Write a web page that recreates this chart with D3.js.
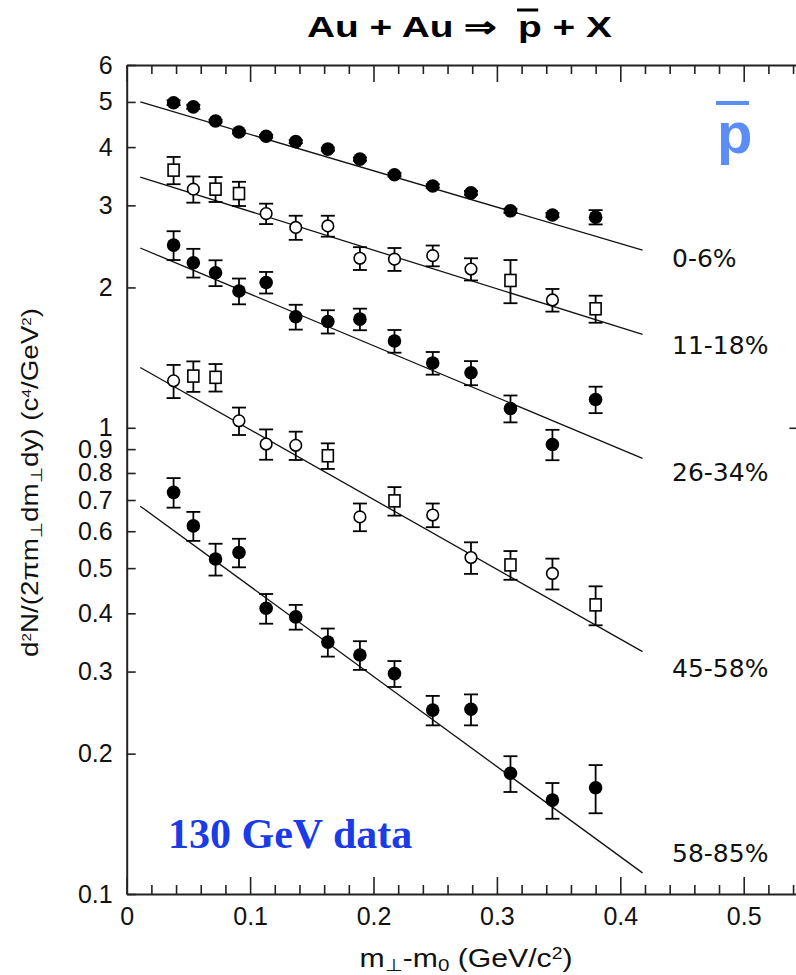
<!DOCTYPE html>
<html>
<head>
<meta charset="utf-8">
<script src="https://cdn.jsdelivr.net/npm/d3@7"></script>
<style>
  html, body { margin: 0; padding: 0; background: #fff; }
  svg { display: block; }
</style>
</head>
<body>
<svg id="chart" width="796" height="975"></svg>
<script>
// ---------------- DATA ----------------
const mtBins = [0.038, 0.054, 0.072, 0.091, 0.113, 0.137, 0.163, 0.189, 0.217, 0.248, 0.279, 0.311, 0.345, 0.380];

const centralities = ["0-6%", "11-18%", "26-34%", "45-58%", "58-85%"];

const yield0_6   = [4.98, 4.88, 4.55, 4.31, 4.22, 4.11, 3.96, 3.77, 3.49, 3.30, 3.19, 2.92, 2.86, 2.83];
const err0_6     = [0.06, 0.05, 0.03, 0.03, 0.03, 0.03, 0.03, 0.03, 0.03, 0.03, 0.03, 0.03, 0.03, 0.10];
const shape0_6   = ["f","f","f","f","f","f","f","f","f","f","f","f","f","f"];

const yield11_18 = [3.57, 3.25, 3.25, 3.18, 2.88, 2.69, 2.71, 2.31, 2.30, 2.34, 2.19, 2.07, 1.88, 1.80];
const err11_18   = [0.24, 0.21, 0.20, 0.19, 0.145, 0.16, 0.14, 0.13, 0.13, 0.12, 0.12, 0.22, 0.105, 0.12];
const shape11_18 = ["s","c","s","s","c","c","c","c","c","c","c","s","c","s"];

const yield26_34 = [2.465, 2.26, 2.15, 1.965, 2.05, 1.73, 1.69, 1.71, 1.535, 1.377, 1.312, 1.10, 0.921, 1.15];
const err26_34   = [0.175, 0.16, 0.137, 0.125, 0.109, 0.106, 0.097, 0.091, 0.086, 0.077, 0.078, 0.073, 0.069, 0.075];
const shape26_34 = ["f","f","f","f","f","f","f","f","f","f","f","f","f","f"];

const yield45_58 = [1.261, 1.291, 1.283, 1.035, 0.923, 0.917, 0.871, 0.644, 0.697, 0.650, 0.527, 0.508, 0.487, 0.417];
const err45_58   = [0.103, 0.097, 0.087, 0.070, 0.069, 0.064, 0.055, 0.044, 0.049, 0.038, 0.041, 0.036, 0.037, 0.040];
const shape45_58 = ["c","s","s","c","c","c","s","c","s","c","c","s","c","s"];

const yield58_85 = [0.727, 0.616, 0.523, 0.540, 0.410, 0.393, 0.347, 0.3255, 0.297, 0.248, 0.249, 0.1815, 0.159, 0.169];
const err58_85   = [0.053, 0.044, 0.041, 0.038, 0.030, 0.024, 0.024, 0.023, 0.019, 0.018, 0.019, 0.016, 0.014, 0.020];
const shape58_85 = ["f","f","f","f","f","f","f","f","f","f","f","f","f","f"];

// exponential fit lines (straight in log scale): endpoints
const fitX      = [0.011, 0.418];
const fitStart  = [5.00, 3.45, 2.43, 1.347, 0.679];
const fitEnd    = [2.405, 1.586, 0.86, 0.331, 0.111];

// axis ticks
const xMajorTicks = [0, 0.1, 0.2, 0.3, 0.4, 0.5];
const xMinorTicks = [0.02,0.04,0.06,0.08,0.12,0.14,0.16,0.18,0.22,0.24,0.26,0.28,0.32,0.34,0.36,0.38,0.42,0.44,0.46,0.48,0.52,0.54];
const yTicks = [6, 5, 4, 3, 2, 1, 0.9, 0.8, 0.7, 0.6, 0.5, 0.4, 0.3, 0.2, 0.1];
const yTickLabels = ["6","5","4","3","2","1","0.9","0.8","0.7","0.6","0.5","0.4","0.3","0.2","0.1"];
const labelAnchorValues = [2.21, 1.44, 0.768, 0.292, 0.117]; // y-values at which series labels sit (right side)

// ---------------- CHART ----------------
const svg = d3.select("#chart");
const x = d3.scaleLinear().domain([0, 0.55]).range([126.7, 805.4]);
const y = d3.scaleLog().domain([0.1, 6]).range([894, 65]);

const axisColor = "#222";
const tickFont = "25px 'Liberation Sans', Arial, sans-serif";

// bottom axis
const gB = svg.append("g").attr("transform", `translate(0,${y(0.1)})`);
gB.call(d3.axisBottom(x).tickValues(xMajorTicks).tickSize(-17).tickSizeOuter(0).tickPadding(13)
  .tickFormat(d => d3.format("")(d)));
svg.append("g").attr("transform", `translate(0,${y(0.1)})`)
  .call(d3.axisBottom(x).tickValues(xMinorTicks).tickSize(-9).tickSizeOuter(0).tickFormat(""))
  .call(g => g.select(".domain").remove());
// top axis
svg.append("g").attr("transform", `translate(0,${y(6)})`)
  .call(d3.axisTop(x).tickValues(xMajorTicks).tickSize(-17).tickSizeOuter(0).tickFormat(""));
svg.append("g").attr("transform", `translate(0,${y(6)})`)
  .call(d3.axisTop(x).tickValues(xMinorTicks).tickSize(-9).tickSizeOuter(0).tickFormat(""))
  .call(g => g.select(".domain").remove());
// left axis
svg.append("g").attr("transform", `translate(${x(0)},0)`)
  .call(d3.axisLeft(y).tickValues(yTicks).tickSize(-9).tickSizeOuter(0).tickPadding(14)
    .tickFormat((d, i) => yTickLabels[i]));
// right axis (mostly outside the frame)
svg.append("g").attr("transform", `translate(${x(0.55)},0)`)
  .call(d3.axisRight(y).tickValues([1]).tickSize(-16).tickSizeOuter(0).tickFormat(""));

svg.selectAll(".domain").attr("stroke", axisColor).attr("stroke-width", 2);
svg.selectAll(".tick line").attr("stroke", axisColor).attr("stroke-width", 1.6);
svg.selectAll(".tick text").style("font", tickFont).attr("fill", "#111");

// series
const series = [
  {name: centralities[0], v: yield0_6,   e: err0_6,   s: shape0_6},
  {name: centralities[1], v: yield11_18, e: err11_18, s: shape11_18},
  {name: centralities[2], v: yield26_34, e: err26_34, s: shape26_34},
  {name: centralities[3], v: yield45_58, e: err45_58, s: shape45_58},
  {name: centralities[4], v: yield58_85, e: err58_85, s: shape58_85},
];

const plot = svg.append("g");
// fit lines
series.forEach((sr, i) => {
  plot.append("line")
    .attr("x1", x(fitX[0])).attr("y1", y(fitStart[i]))
    .attr("x2", x(fitX[1])).attr("y2", y(fitEnd[i]))
    .attr("stroke", "#111").attr("stroke-width", 1.3);
});

series.forEach(sr => {
  const pts = mtBins.map((m, j) => ({m, v: sr.v[j], e: sr.e[j], s: sr.s[j]}));
  const g = plot.append("g");
  // error bars
  const eb = g.selectAll(".eb").data(pts).enter().append("g").attr("class", "eb")
    .attr("stroke", "#000").attr("stroke-width", 1.8);
  eb.append("line").attr("x1", d => x(d.m)).attr("x2", d => x(d.m))
    .attr("y1", d => y(d.v + d.e)).attr("y2", d => y(d.v - d.e));
  eb.append("line").attr("x1", d => x(d.m) - 7).attr("x2", d => x(d.m) + 7)
    .attr("y1", d => y(d.v + d.e)).attr("y2", d => y(d.v + d.e));
  eb.append("line").attr("x1", d => x(d.m) - 7).attr("x2", d => x(d.m) + 7)
    .attr("y1", d => y(d.v - d.e)).attr("y2", d => y(d.v - d.e));
  // markers
  g.selectAll(".mf").data(pts.filter(d => d.s === "f")).enter().append("circle")
    .attr("cx", d => x(d.m)).attr("cy", d => y(d.v)).attr("r", 6.8).attr("fill", "#000");
  g.selectAll(".mc").data(pts.filter(d => d.s === "c")).enter().append("circle")
    .attr("cx", d => x(d.m)).attr("cy", d => y(d.v)).attr("r", 5.8)
    .attr("fill", "#fff").attr("stroke", "#000").attr("stroke-width", 1.6);
  g.selectAll(".ms").data(pts.filter(d => d.s === "s")).enter().append("rect")
    .attr("x", d => x(d.m) - 5.5).attr("y", d => y(d.v) - 6).attr("width", 11).attr("height", 12)
    .attr("fill", "#fff").attr("stroke", "#000").attr("stroke-width", 1.6);
});

// series labels
svg.selectAll(".clabel").data(centralities).enter().append("text")
  .attr("x", 672).attr("y", (d, i) => y(labelAnchorValues[i]))
  .style("font", "25px 'DejaVu Sans', sans-serif").attr("fill", "#111")
  .text(d => d);

// title
const title = svg.append("text")
  .attr("x", 307).attr("y", 37)
  .style("font", "bold 29px 'Liberation Sans', Arial, sans-serif")
  .style("white-space", "pre")
  .attr("fill", "#000")
  .attr("textLength", 305).attr("lengthAdjust", "spacingAndGlyphs");
const t1 = "Au + Au \u21D2  ";
title.append("tspan").text(t1);
title.append("tspan").text("p");
title.append("tspan").text(" + X");
try {
  const ext = title.node().getExtentOfChar(t1.length);
  svg.append("line").attr("x1", ext.x - 1).attr("x2", ext.x + ext.width * 0.85)
    .attr("y1", 10).attr("y2", 10).attr("stroke", "#000").attr("stroke-width", 3);
} catch (e) {}

// blue p-bar
svg.append("text").attr("x", 717).attr("y", 153)
  .style("font", "bold 58px 'Liberation Sans', Arial, sans-serif")
  .attr("fill", "#5b8cf8").text("p");
svg.append("line").attr("x1", 716).attr("x2", 749).attr("y1", 103).attr("y2", 103)
  .attr("stroke", "#5b8cf8").attr("stroke-width", 4);

// 130 GeV data
svg.append("text").attr("x", 168).attr("y", 848)
  .style("font", "bold 42px 'Liberation Serif', 'Times New Roman', serif")
  .attr("fill", "#1a3be6").text("130 GeV data");

// x-axis title
const xt = svg.append("text").attr("x", 466).attr("y", 967).attr("text-anchor", "middle")
  .style("font", "25px 'Liberation Sans', Arial, sans-serif").attr("fill", "#111")
  .attr("textLength", 213).attr("lengthAdjust", "spacingAndGlyphs");
xt.append("tspan").text("m");
xt.append("tspan").attr("baseline-shift", "-25%").style("font-size", "17px").text("\u22A5");
xt.append("tspan").text("-m");
xt.append("tspan").attr("baseline-shift", "-25%").style("font-size", "17px").text("0");
xt.append("tspan").text(" (GeV/c");
xt.append("tspan").attr("baseline-shift", "super").style("font-size", "16px").text("2");
xt.append("tspan").text(")");

// y-axis title
const yt = svg.append("text").attr("transform", "translate(38,482.5) rotate(-90)")
  .attr("text-anchor", "middle")
  .style("font", "24px 'Liberation Sans', Arial, sans-serif").attr("fill", "#111")
  .attr("textLength", 349).attr("lengthAdjust", "spacingAndGlyphs");
yt.append("tspan").text("d");
yt.append("tspan").attr("baseline-shift", "super").style("font-size", "13px").text("2");
yt.append("tspan").text("N/(2\u03C0m");
yt.append("tspan").attr("baseline-shift", "-25%").style("font-size", "16px").text("\u22A5");
yt.append("tspan").text("dm");
yt.append("tspan").attr("baseline-shift", "-25%").style("font-size", "16px").text("\u22A5");
yt.append("tspan").text("dy) (c");
yt.append("tspan").attr("baseline-shift", "super").style("font-size", "13px").text("4");
yt.append("tspan").text("/GeV");
yt.append("tspan").attr("baseline-shift", "super").style("font-size", "13px").text("2");
yt.append("tspan").text(")");
</script>
</body>
</html>
